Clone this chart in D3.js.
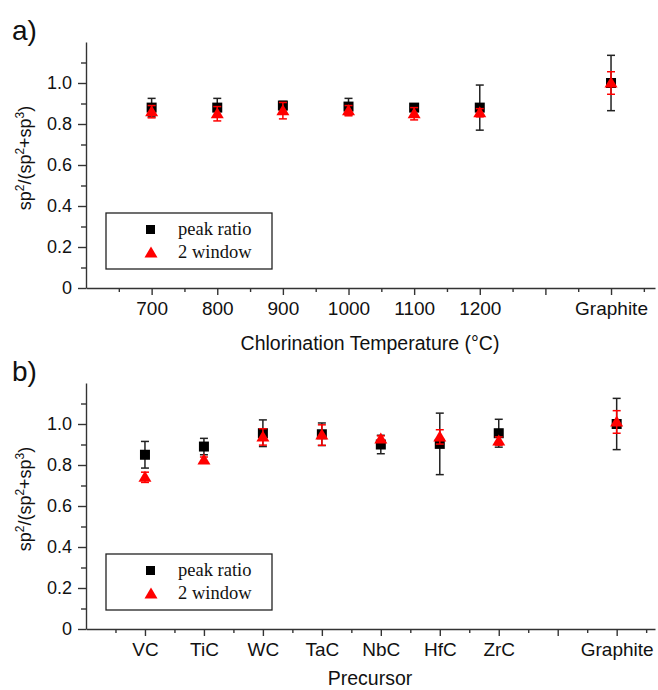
<!DOCTYPE html>
<html>
<head>
<meta charset="utf-8">
<script src="https://cdn.jsdelivr.net/npm/d3@7"></script>
<style>
body{margin:0;background:#fff;}
svg{display:block;font-family:"Liberation Sans",Arial,sans-serif;}
</style>
</head>
<body>
<div id="chart"></div>
<script>
"use strict";

// a) chlorination temperature (blank slots keep the gap before Graphite)
var tempCats = ["", "700", "800", "900", "1000", "1100", "1200", "", "Graphite"];
var tempPoints = ["700", "800", "900", "1000", "1100", "1200", "Graphite"];
var peakA    = [0.88, 0.88, 0.89, 0.885, 0.88, 0.88, 1.0];
var peakAErr = [0.045, 0.045, 0.02, 0.04, 0.015, 0.11, 0.135];
var winA     = [0.86, 0.85, 0.865, 0.865, 0.85, 0.855, 1.0];
var winAErr  = [0.03, 0.035, 0.04, 0.025, 0.03, 0.02, 0.055];

// b) precursor carbide
var precCats = ["", "VC", "TiC", "WC", "TaC", "NbC", "HfC", "ZrC", "", "Graphite"];
var precPoints = ["VC", "TiC", "WC", "TaC", "NbC", "HfC", "ZrC", "Graphite"];
var peakB    = [0.85, 0.89, 0.955, 0.95, 0.9, 0.903, 0.955, 1.0];
var peakBErr = [0.065, 0.04, 0.065, 0.055, 0.045, 0.15, 0.068, 0.125];
var winB     = [0.74, 0.824, 0.937, 0.946, 0.927, 0.937, 0.917, 1.01];
var winBErr  = [0.025, 0.015, 0.04, 0.05, 0.015, 0.035, 0.02, 0.055];

var yMajor = [0, 0.2, 0.4, 0.6, 0.8, 1.0];
var yMinor = [0.1, 0.3, 0.5, 0.7, 0.9, 1.1];
var seriesNames = ["peak ratio", "2 window"];

var W = 658, H = 690;
var svg = d3.select("#chart").append("svg")
    .attr("width", W)
    .attr("height", H);

var axisColor = "#333";

function triPath(cx, cy){
    return "M" + cx + "," + (cy - 6.5) + "L" + (cx + 6.5) + "," + (cy + 4.5) + "L" + (cx - 6.5) + "," + (cy + 4.5) + "Z";
}

function drawPanel(o){
    var g = svg.append("g");
    var x = d3.scaleLinear().domain([0, o.xMax]).range([86, 655]);
    var y = d3.scaleLinear().domain([0, 1.2]).range([o.bottom, o.bottom - 246]);

    var n = o.cats.length;
    var major = d3.range(1, n);
    var minor = d3.range(0.5, o.xMax, 1);

    // x axis: minor ticks, then labelled major ticks
    g.append("g")
        .attr("transform", "translate(0," + o.bottom + ")")
        .call(d3.axisBottom(x).tickValues(minor).tickSize(4).tickSizeOuter(0).tickFormat(""))
        .call(function(s){ s.select(".domain").remove(); });
    var xa = g.append("g")
        .attr("transform", "translate(0," + o.bottom + ")")
        .call(d3.axisBottom(x).tickValues(major).tickSize(7).tickSizeOuter(0).tickPadding(7)
            .tickFormat(function(i){ return o.cats[i]; }));
    xa.attr("font-size", 19).attr("font-family", null);

    // y axis
    g.append("g")
        .attr("transform", "translate(86,0)")
        .call(d3.axisLeft(y).tickValues(yMinor).tickSize(5).tickSizeOuter(0).tickFormat(""))
        .call(function(s){ s.select(".domain").remove(); });
    var ya = g.append("g")
        .attr("transform", "translate(86,0)")
        .call(d3.axisLeft(y).tickValues(yMajor).tickSize(8).tickSizeOuter(0).tickPadding(6)
            .tickFormat(function(d){ return d === 0 ? "0" : d.toFixed(1); }));
    ya.attr("font-size", 18).attr("font-family", null);

    g.selectAll(".domain, .tick line").attr("stroke", axisColor).attr("stroke-width", 1.4);
    g.selectAll(".tick text").attr("fill", "#111");

    // panel letter
    g.append("text")
        .attr("x", 12)
        .attr("y", o.bottom - 248)
        .attr("font-size", 28)
        .attr("fill", "#111")
        .text(o.letter);

    // y label
    var yl = g.append("text")
        .attr("transform", "translate(31," + (o.bottom - 130) + ") rotate(-90)")
        .attr("text-anchor", "middle")
        .attr("font-size", 18)
        .attr("fill", "#111");
    yl.append("tspan").text("sp");
    yl.append("tspan").attr("dy", -7).attr("font-size", 12).text("2");
    yl.append("tspan").attr("dy", 7).text("/(sp");
    yl.append("tspan").attr("dy", -7).attr("font-size", 12).text("2");
    yl.append("tspan").attr("dy", 7).text("+sp");
    yl.append("tspan").attr("dy", -7).attr("font-size", 12).text("3");
    yl.append("tspan").attr("dy", 7).text(")");

    // x title
    g.append("text")
        .attr("x", 370)
        .attr("y", o.bottom + o.titleGap)
        .attr("text-anchor", "middle")
        .attr("font-size", 19.5)
        .attr("fill", "#111")
        .text(o.title);

    function px(i){ return x(o.cats.lastIndexOf(o.points[i])); }

    function errBars(vals, errs, color, w){
        var eb = g.append("g").attr("stroke", color).attr("stroke-width", w);
        vals.forEach(function(v, i){
            var cx = px(i), y1 = y(v + errs[i]), y2 = y(v - errs[i]);
            eb.append("line").attr("x1", cx).attr("x2", cx).attr("y1", y1).attr("y2", y2);
            eb.append("line").attr("x1", cx - 4).attr("x2", cx + 4).attr("y1", y1).attr("y2", y1);
            eb.append("line").attr("x1", cx - 4).attr("x2", cx + 4).attr("y1", y2).attr("y2", y2);
        });
    }

    errBars(o.peak, o.peakErr, "#222", 1.5);
    g.selectAll("rect.pk").data(o.peak).enter()
        .append("rect")
            .attr("class", "pk")
            .attr("x", function(d, i){ return px(i) - 5; })
            .attr("y", function(d){ return y(d) - 5; })
            .attr("width", 10)
            .attr("height", 10)
            .attr("fill", "#000");

    errBars(o.win, o.winErr, "#f00", 1.5);
    g.selectAll("path.win").data(o.win).enter()
        .append("path")
            .attr("class", "win")
            .attr("d", function(d, i){ return triPath(px(i), y(d)); })
            .attr("fill", "#f00");

    // legend
    var lx = 106, ly = o.bottom - 75;
    var lg = g.append("g");
    lg.append("rect")
        .attr("x", lx).attr("y", ly)
        .attr("width", 166).attr("height", 56)
        .attr("fill", "#fff")
        .attr("stroke", "#222")
        .attr("stroke-width", 1.3);
    lg.append("rect")
        .attr("x", lx + 40).attr("y", ly + 12)
        .attr("width", 9).attr("height", 9)
        .attr("fill", "#000");
    lg.append("path")
        .attr("d", triPath(lx + 45, ly + 40))
        .attr("fill", "#f00");
    lg.selectAll("text").data(seriesNames).enter()
        .append("text")
            .attr("x", lx + 72)
            .attr("y", function(d, i){ return ly + 22 + i * 23; })
            .attr("font-family", "'Liberation Serif','Times New Roman',serif")
            .attr("font-size", 18.5)
            .attr("fill", "#111")
            .text(function(d){ return d; });
}

drawPanel({
    cats: tempCats, points: tempPoints,
    peak: peakA, peakErr: peakAErr, win: winA, winErr: winAErr,
    xMax: 8.67, bottom: 288, letter: "a)", titleGap: 62,
    title: "Chlorination Temperature (\u00B0C)"
});

drawPanel({
    cats: precCats, points: precPoints,
    peak: peakB, peakErr: peakBErr, win: winB, winErr: winBErr,
    xMax: 9.65, bottom: 629, letter: "b)", titleGap: 56,
    title: "Precursor"
});
</script>
</body>
</html>
